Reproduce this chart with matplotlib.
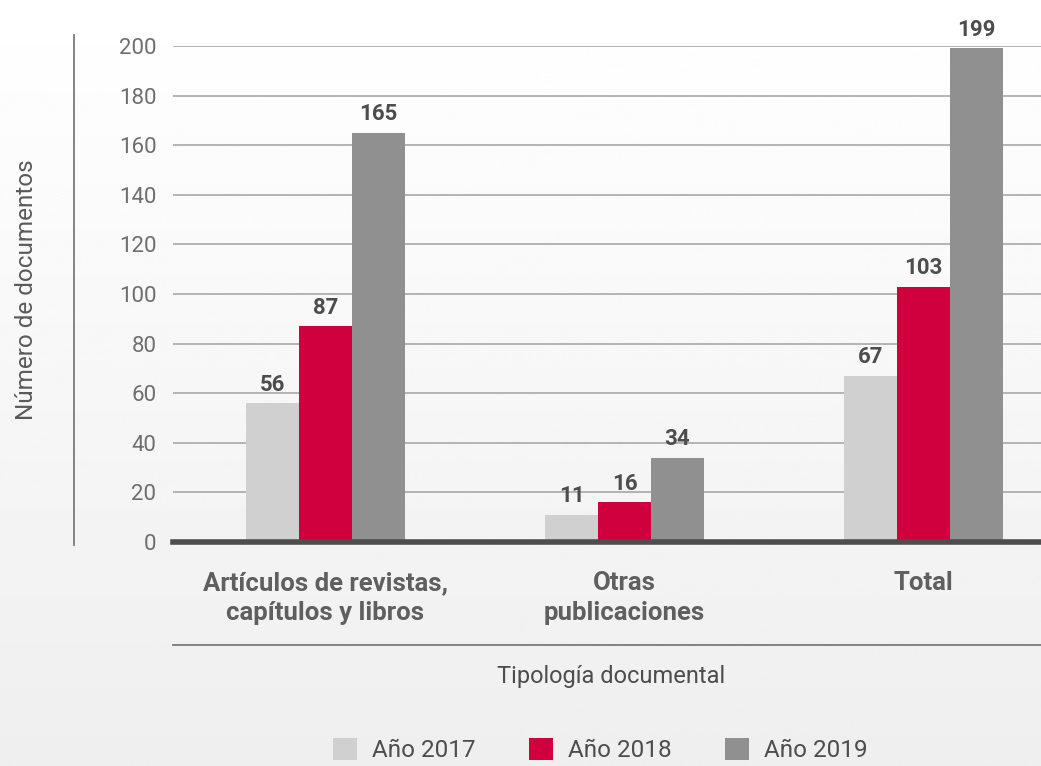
import numpy as np
import matplotlib
matplotlib.use("Agg")
from matplotlib import pyplot as plt
from matplotlib.lines import Line2D
from matplotlib.patches import Patch

plt.rcParams['font.family'] = ['Roboto', 'DejaVu Sans']

categories = ["Artículos de revistas,\ncapítulos y libros", "Otras\npublicaciones", "Total"]
series_names = ["Año 2017", "Año 2018", "Año 2019"]
values_2017 = [56, 11, 67]
values_2018 = [87, 16, 103]
values_2019 = [165, 34, 199]
colors = ["#d0d0d0", "#cf003d", "#909090"]
y_ticks = [0, 20, 40, 60, 80, 100, 120, 140, 160, 180, 200]

W, H = 1041, 766
fig = plt.figure(figsize=(W / 100, H / 100), dpi=100)

# soft vertical background gradient
bg = fig.add_axes([0, 0, 1, 1], zorder=-10)
grad = np.linspace(1.0, 0.935, 256).reshape(-1, 1)
bg.imshow(grad, aspect="auto", cmap="gray", vmin=0, vmax=1, extent=[0, 1, 0, 1])
bg.axis("off")

ax = fig.add_axes([173 / W, 1 - 542 / H, 1 - 173 / W, (542 - 46) / H])
ax.patch.set_alpha(0)

x = np.arange(len(categories))
width = 0.177
for i, (vals, name) in enumerate(zip([values_2017, values_2018, values_2019], series_names)):
    pos = x + (i - 1) * width
    bars = ax.bar(pos, vals, width, color=colors[i], label=name, zorder=3)
    for b, v in zip(bars, vals):
        ax.text(b.get_x() + b.get_width() / 2, v + 3, str(v), ha="center", va="bottom",
                fontsize=16, fontweight="bold", color="#4d4d4d", zorder=4)

ax.set_ylim(0, 200)
ax.set_xlim(-0.51, 2.393)
ax.set_yticks(y_ticks)
ax.yaxis.grid(True, color="#a8a8a8", linewidth=1.2, zorder=0)
ax.set_axisbelow(True)
for s in ["left", "right", "top"]:
    ax.spines[s].set_visible(False)
ax.spines["bottom"].set_color("#4d4d4d")
ax.spines["bottom"].set_linewidth(4)
ax.spines["bottom"].set_zorder(5)
ax.tick_params(axis="y", length=0, pad=12, labelsize=16, labelcolor="#6e6e6e")
ax.tick_params(axis="x", length=0, pad=21)
ax.set_xticks(x)
ax.set_xticklabels(categories, fontsize=18.5, fontweight="bold", color="#5f5f5f", linespacing=1.3)

# decorative lines
fig.add_artist(Line2D([74 / W, 74 / W], [1 - 545 / H, 1 - 35 / H], color="#7a7a7a", linewidth=1.3))
fig.add_artist(Line2D([173 / W, 1], [1 - 645 / H, 1 - 645 / H], color="#7a7a7a", linewidth=1.3))

fig.text(27 / W, 1 - 290 / H, "Número de documentos", rotation=90, ha="center", va="center",
         fontsize=17.5, color="#5a5a5a")
fig.text(611 / W, 1 - 676 / H, "Tipología documental", ha="center", va="center",
         fontsize=17, color="#4d4d4d")

handles = [Patch(facecolor=c, edgecolor="none") for c in colors]
fig.legend(handles, series_names, loc="center", bbox_to_anchor=(600 / W, 1 - 750 / H), ncol=3,
           frameon=False, fontsize=17.5, labelcolor="#4d4d4d",
           handlelength=1.0, handleheight=1.0, columnspacing=2.2, handletextpad=0.6)

fig.savefig("out.png", dpi=100)
